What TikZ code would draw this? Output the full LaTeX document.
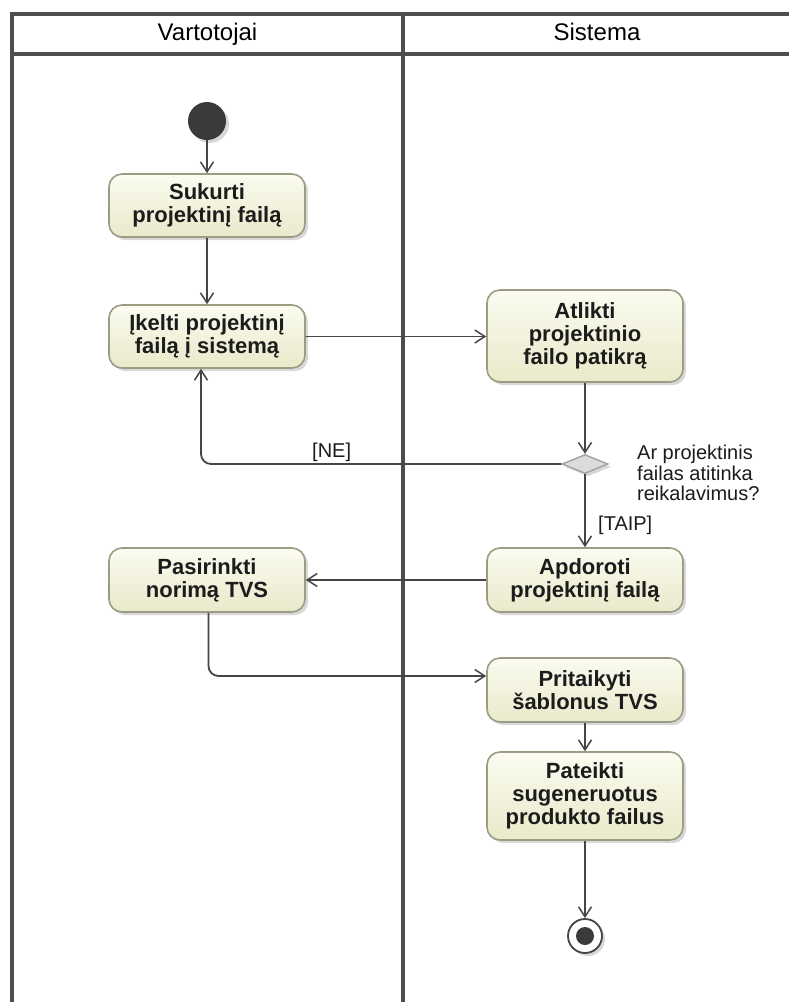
\documentclass[tikz,border=0pt]{standalone}
\usepackage{fontspec}
\setmainfont{Liberation Sans}
\usetikzlibrary{arrows.meta,shapes.geometric,shadows,calc}

\definecolor{laneline}{HTML}{4E4E4E}
\definecolor{flow}{HTML}{454545}
\definecolor{actborder}{HTML}{9C9C84}
\definecolor{acttop}{HTML}{FBFBF0}
\definecolor{actbottom}{HTML}{E9E9CB}
\definecolor{acttext}{HTML}{1C1C1C}
\definecolor{nodefill}{HTML}{3A3A3A}
\definecolor{decfill}{HTML}{DCDCDC}
\definecolor{decborder}{HTML}{A2A2A2}

\begin{document}
\begin{tikzpicture}[x=1pt,y=-1pt,
  lane/.style={draw=laneline,line width=3.5pt},
  softshadow/.style={drop shadow={shadow xshift=3pt,shadow yshift=-3pt,fill=black!70,opacity=0.22}},
  action/.style={rectangle,rounded corners=13pt,draw=actborder,line width=1.6pt,
    top color=acttop,bottom color=actbottom,softshadow,
    font=\bfseries\fontsize{22}{23}\selectfont,text=acttext,align=center,
    minimum width=196pt,inner sep=0pt},
  header/.style={font=\fontsize{24}{24}\selectfont,text=black,inner sep=0pt},
  guard/.style={font=\fontsize{20}{20.5}\selectfont,text=acttext,inner sep=0pt},
  flowline/.style={draw=flow,line width=1.8pt,
    -{Straight Barb[length=10pt,width=13pt,line width=1.5pt]}},
  decision/.style={diamond,draw=decborder,line width=1.4pt,fill=decfill,
    minimum width=46pt,minimum height=19pt,inner sep=0pt,softshadow},
]
\useasboundingbox (0,0) rectangle (789,1002);

% swimlane frame
\draw[lane] (789,14) -- (12,14) -- (12,1005);
\draw[lane] (12,54) -- (789,54);
\draw[lane] (403,14) -- (403,1005);

\node[header,anchor=base] (hUser) at (207.5,40) {Vartotojai};
\node[header,anchor=base] (hSys) at (597,40) {Sistema};

% start node
\node[circle,fill=nodefill,minimum size=38pt,inner sep=0pt,softshadow] (start) at (207,121) {};

% actions
\node[action,minimum height=63pt] (create) at (207,205.5) {Sukurti\\projektinį failą};
\node[action,minimum height=63pt] (upload) at (207,336.5) {Įkelti projektinį\\failą į sistemą};
\node[action,minimum height=92pt] (check) at (585,336) {Atlikti\\projektinio\\failo patikrą};
\node[decision] (dec) at (585,464) {};
\node[action,minimum height=64pt] (proc) at (585,580) {Apdoroti\\projektinį failą};
\node[action,minimum height=64pt] (pick) at (207,580) {Pasirinkti\\norimą TVS};
\node[action,minimum height=64pt] (apply) at (585,690) {Pritaikyti\\šablonus TVS};
\node[action,minimum height=88pt] (deliver) at (585,796) {Pateikti\\sugeneruotus\\produkto failus};

% final node
\node[circle,draw=flow,line width=1.8pt,fill=white,minimum size=34pt,inner sep=0pt,softshadow] (final) at (585,936) {};
\node[circle,fill=nodefill,minimum size=18pt,inner sep=0pt] (finalDot) at (final) {};

% guards and decision text
\node[guard,anchor=base west] (gNo) at (312,457) {[NE]};
\node[guard,anchor=base west] (gYes) at (598,530) {[TAIP]};
\node[guard,anchor=north west,align=left] (question) at (637,445) {Ar projektinis\\failas atitinka\\reikalavimus?};

% control flows
\draw[flowline] (start) -- (create);
\draw[flowline] (create) -- (upload);
\draw[flowline] (upload.east) -- (upload.east -| check.west);
\draw[flowline] (check) -- (dec);
\draw[flowline,rounded corners=10pt] (dec.west) -| ([xshift=-6pt]upload.south);
\draw[flowline] (dec.south) -- (proc.north);
\draw[flowline] (proc.west) -- (pick.east);
\coordinate (applyIn) at ([yshift=14pt]apply.west);
\draw[flowline,rounded corners=10pt] ([xshift=1.5pt]pick.south) |- (applyIn);
\draw[flowline] (apply) -- (deliver);
\draw[flowline] (deliver) -- (final);
\end{tikzpicture}
\end{document}
